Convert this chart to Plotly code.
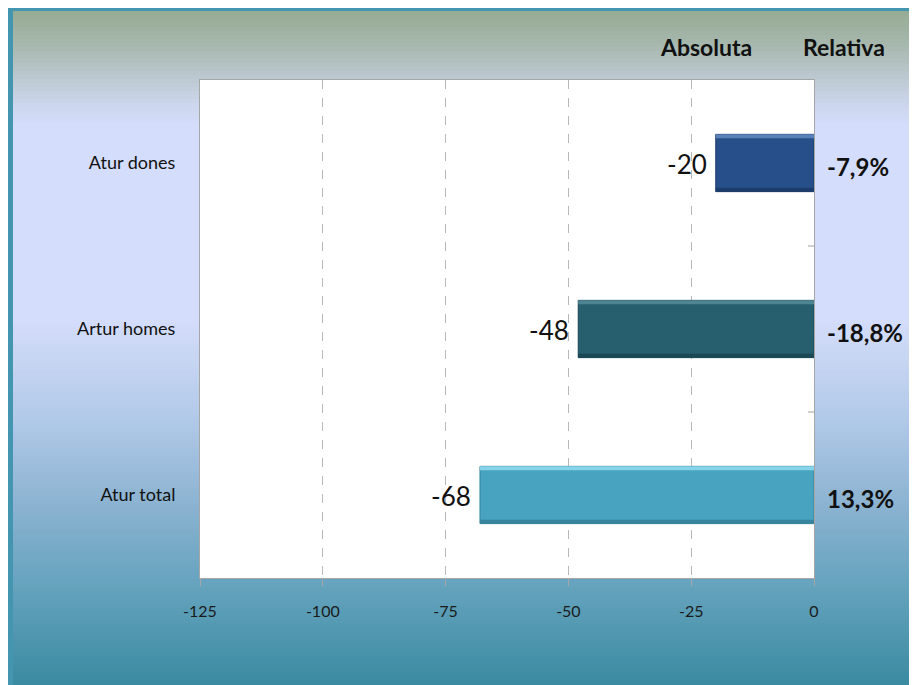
import plotly.graph_objects as go

# ---- data ----
categories = ["Atur dones", "Artur homes", "Atur total"]
absolute_values = [-20, -48, -68]
relative_labels = ["-7,9%", "-18,8%", "13,3%"]
bar_colors = ["#27508a", "#275f6e", "#47a3bf"]
bar_light_colors = ["#5a80b8", "#4f8593", "#86d3ea"]
bar_dark_colors = ["#1c3d6b", "#1b4855", "#36849c"]
x_tick_values = [-125, -100, -75, -50, -25, 0]
header_labels = ["Absoluta", "Relativa"]

OFF = 8  # page body margin
W, H = 917 - OFF, 685
L, T = 200 - OFF, 80 - OFF
PW, PH = 614, 498
R, B = W - L - PW, H - T - PH


def px(xp):
    return (xp - OFF - L) / PW


def py(yp):
    return 1 - (yp - OFF - T) / PH


def hex2rgb(h):
    h = h.lstrip("#")
    return tuple(int(h[i:i + 2], 16) for i in (0, 2, 4))


grad_stops = [
    (11, "#96ab93"), (40, "#a4b6aa"), (70, "#b7c5c8"), (100, "#cad4e8"),
    (125, "#d4ddfb"), (320, "#d4ddfb"), (360, "#c6d5f2"), (420, "#b1c9e8"),
    (500, "#8db4d2"), (580, "#68a4bf"), (700, "#33869c"),
]


def grad_color(y):
    for (y0, c0), (y1, c1) in zip(grad_stops[:-1], grad_stops[1:]):
        if y0 <= y <= y1:
            t = (y - y0) / (y1 - y0)
            a, b = hex2rgb(c0), hex2rgb(c1)
            return "rgb(%d,%d,%d)" % tuple(round(a[i] + (b[i] - a[i]) * t) for i in range(3))
    return grad_stops[-1][1]


shapes = []
# teal frame
shapes.append(dict(type="rect", xref="paper", yref="paper", layer="below",
                   x0=px(0), x1=px(W + 30), y0=py(0), y1=py(H + 30),
                   fillcolor="#4496b0", line=dict(width=0)))
# gradient background strips
step = 4
y = 11
while y < H + 20:
    shapes.append(dict(type="rect", xref="paper", yref="paper", layer="below",
                       x0=px(13), x1=px(W + 30), y0=py(y), y1=py(y + step + 0.6),
                       fillcolor=grad_color(y + step / 2), line=dict(width=0)))
    y += step
# white plot area
shapes.append(dict(type="rect", xref="x domain", yref="y domain", layer="below",
                   x0=0, x1=1, y0=0, y1=1, fillcolor="white", line=dict(width=0)))

# inward category ticks on the right axis (between categories)
for i in range(len(categories) - 1):
    shapes.append(dict(type="line", xref="x domain", yref="y", layer="above",
                       x0=1 - 6 / PW, x1=1, y0=i + 0.5, y1=i + 0.5,
                       line=dict(color="#a0a0a0", width=1)))

BW = 0.345
EDGE = 0.024
fig = go.Figure()
fig.add_trace(go.Bar(
    y=categories, x=absolute_values, orientation="h", width=BW,
    marker=dict(color=bar_colors, line=dict(color=bar_dark_colors, width=1)),
    hoverinfo="skip",
))
# bevel: light top edge, dark bottom edge
fig.add_trace(go.Bar(
    y=categories, x=absolute_values, orientation="h", width=EDGE, offset=-BW / 2,
    marker=dict(color=bar_light_colors, line=dict(width=0)), hoverinfo="skip",
))
fig.add_trace(go.Bar(
    y=categories, x=absolute_values, orientation="h", width=EDGE, offset=BW / 2 - EDGE,
    marker=dict(color=bar_dark_colors, line=dict(width=0)), hoverinfo="skip",
))

annotations = []
for cat, v in zip(categories, absolute_values):
    annotations.append(dict(x=v, y=cat, xref="x", yref="y", text=str(v),
                            showarrow=False, xanchor="right", xshift=-7, yshift=-1,
                            font=dict(family="Lato", size=26, color="#111111")))
for cat, lab in zip(categories, relative_labels):
    annotations.append(dict(x=0, y=cat, xref="x", yref="y", text="<b>%s</b>" % lab,
                            showarrow=False, xanchor="left", xshift=11, yshift=-3,
                            font=dict(family="Lato", size=24, color="#111111")))
for lab, xp in zip(header_labels, [706, 844]):
    annotations.append(dict(x=px(xp), y=py(47), xref="paper", yref="paper",
                            text="<b>%s</b>" % lab, showarrow=False,
                            xanchor="center", yanchor="middle",
                            font=dict(family="Lato", size=23, color="#111111")))

fig.update_layout(
    width=W, height=H, barmode="overlay",
    margin=dict(l=L, r=R, t=T, b=B, autoexpand=False),
    paper_bgcolor="white", plot_bgcolor="white",
    showlegend=False, shapes=shapes, annotations=annotations,
    xaxis=dict(range=[-125, 0], tickvals=x_tick_values,
               ticktext=[str(v) for v in x_tick_values],
               showgrid=True, gridcolor="#b8b8b8", griddash="dash", gridwidth=1,
               zeroline=False, showline=True, linecolor="#a6a6a6", linewidth=1,
               mirror=True, ticks="outside", ticklen=7, tickcolor="#a6a6a6",
               ticklabelstandoff=12,
               tickfont=dict(family="Lato", size=16, color="#1a1a1a")),
    yaxis=dict(type="category", categoryorder="array", categoryarray=categories,
               range=[len(categories) - 0.5, -0.5],
               showgrid=False, zeroline=False, showline=True, linecolor="#a6a6a6",
               linewidth=1, mirror=True, ticks="", ticklabelstandoff=20,
               tickfont=dict(family="Lato", size=18, color="#111111")),
    font=dict(family="Lato"),
)

fig.write_html("out.html")
